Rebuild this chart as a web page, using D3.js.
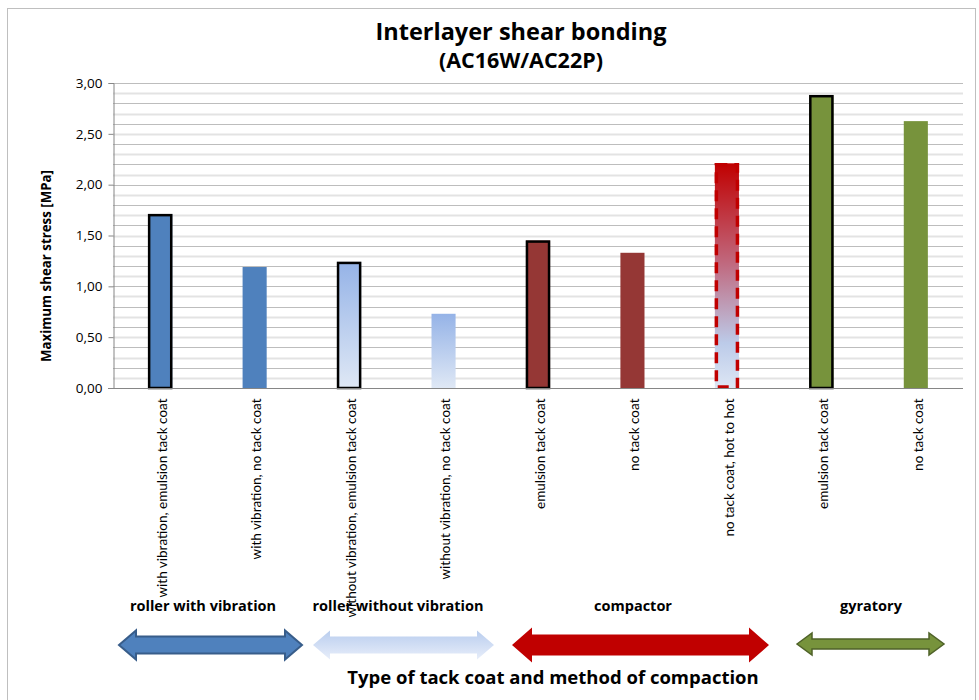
<!DOCTYPE html>
<html>
<head>
<meta charset="utf-8">
<script src="https://cdn.jsdelivr.net/npm/d3@7/dist/d3.min.js"></script>
<style>
  body { margin: 0; background: #fff; }
  svg { display: block; font-family: Lato, "Open Sans", sans-serif; }
  .bold { font-family: "Open Sans", sans-serif; font-weight: bold; }
</style>
</head>
<body>
<svg id="chart" width="979" height="700"></svg>
<script>
// Test conditions, shear strength results and grouping by compaction method
const categories = [
  "with vibration, emulsion tack coat",
  "with vibration, no tack coat",
  "without vibration, emulsion tack coat",
  "without vibration, no tack coat",
  "emulsion tack coat",
  "no tack coat",
  "no tack coat, hot to hot",
  "emulsion tack coat",
  "no tack coat"
];
const values = [1.71, 1.19, 1.24, 0.73, 1.45, 1.33, 2.21, 2.88, 2.625];
const fills = ["blue", "blue", "lightBlue", "lightBlue", "brick", "brick", "redFade", "olive", "olive"];
const outlines = ["solid", "none", "solid", "none", "solid", "none", "dashed", "solid", "none"];
const yTicks = [0, 0.5, 1.0, 1.5, 2.0, 2.5, 3.0];
const groups = ["roller with vibration", "roller without vibration", "compactor", "gyratory"];

const svg = d3.select("#chart");
const margin = { left: 113, right: 963, top: 83, bottom: 388 };

const x = d3.scaleBand().domain(d3.range(categories.length))
  .range([margin.left, margin.right]).paddingInner(0.745).paddingOuter(0.372);
const y = d3.scaleLinear().domain([0, 3]).range([margin.bottom, margin.top]);

// gradients
const defs = svg.append("defs");
function vgrad(id, stops) {
  const g = defs.append("linearGradient").attr("id", id)
    .attr("x1", 0).attr("y1", 0).attr("x2", 0).attr("y2", 1);
  stops.forEach(s => g.append("stop").attr("offset", s[0]).attr("stop-color", s[1]));
}
vgrad("lightBlue", [[0, "#95b3e7"], [1, "#dfe8f5"]]);
vgrad("redFade", [[0, "#c00000"], [0.45, "#c06a80"], [0.8, "#bccbe9"], [1, "#dde6f4"]]);
vgrad("lightArrow", [[0, "#b9cdee"], [1, "#e8eefa"]]);
const fillColor = {
  blue: "#4f81bd", lightBlue: "url(#lightBlue)", brick: "#953735",
  redFade: "url(#redFade)", olive: "#77933c"
};

// outer chart frame
svg.append("rect").attr("x", 7.5).attr("y", 8.5).attr("width", 968).attr("height", 700)
  .attr("fill", "none").attr("stroke", "#bfbfbf").attr("stroke-width", 1);

// gridlines every 0.1
const gridVals = d3.range(1, 31).map(i => i / 10);
svg.append("g").selectAll("line").data(gridVals).join("line")
  .attr("x1", margin.left).attr("x2", margin.right)
  .attr("y1", d => Math.round(y(d)) + 0.5).attr("y2", d => Math.round(y(d)) + 0.5)
  .attr("stroke", (d, i) => (i % 2 === 0) ? "#e3e3e3" : "#bdbdbd")
  .attr("stroke-width", (d, i) => (i % 2 === 0) ? 2 : 1);

// bars
const bars = svg.append("g");
values.forEach((v, i) => {
  const bx = x(i), bw = x.bandwidth();
  const by = y(v), bh = y(0) - y(v);
  bars.append("rect").attr("x", bx).attr("y", by).attr("width", bw).attr("height", bh)
    .attr("fill", fillColor[fills[i]]);
  if (outlines[i] === "solid") {
    bars.append("rect").attr("x", bx + 1).attr("y", by + 1).attr("width", bw - 2).attr("height", bh - 1)
      .attr("fill", "none").attr("stroke", "#000").attr("stroke-width", 2.5);
  } else if (outlines[i] === "dashed") {
    bars.append("rect").attr("x", bx + 1.5).attr("y", by + 1.5).attr("width", bw - 3).attr("height", bh - 2.5)
      .attr("fill", "none").attr("stroke", "#c00000").attr("stroke-width", 3.5)
      .attr("stroke-dasharray", "11,7");
  }
});

// y axis
const yAxis = d3.axisLeft(y).tickValues(yTicks).tickSize(5).tickPadding(6)
  .tickFormat(d => d3.format(".2f")(d).replace(".", ","));
const ya = svg.append("g").attr("transform", `translate(${margin.left + 0.5},0)`).call(yAxis);
ya.select(".domain").attr("stroke", "#868686");
ya.selectAll(".tick line").attr("stroke", "#868686");
ya.selectAll(".tick text").attr("font-size", 13.5).attr("fill", "#000")
  .attr("font-family", "'Open Sans', sans-serif");

// x axis
const xAxis = d3.axisBottom(x).tickSize(0).tickFormat(i => categories[i]);
const xa = svg.append("g").attr("transform", `translate(0,${margin.bottom + 0.5})`).call(xAxis);
xa.select(".domain").attr("stroke", "#868686").attr("d", `M${margin.left - 5},0H${margin.right}`);
xa.selectAll(".tick text")
  .attr("transform", "rotate(-90)")
  .attr("text-anchor", "end")
  .attr("x", -10).attr("y", 2).attr("dy", "0.35em")
  .attr("font-size", 13.5).attr("fill", "#000")
  .attr("font-family", "Lato, sans-serif");

// titles
svg.append("text").attr("class", "bold").attr("x", 521).attr("y", 40).attr("text-anchor", "middle")
  .attr("font-size", 23.5).text("Interlayer shear bonding");
svg.append("text").attr("class", "bold").attr("x", 521).attr("y", 68).attr("text-anchor", "middle")
  .attr("font-size", 21.5).text("(AC16W/AC22P)");
svg.append("text").attr("class", "bold").attr("transform", "translate(51,266) rotate(-90)")
  .attr("text-anchor", "middle").attr("font-size", 13.3).text("Maximum shear stress [MPa]");
svg.append("text").attr("class", "bold").attr("x", 553).attr("y", 684).attr("text-anchor", "middle")
  .attr("font-size", 18.5).text("Type of tack coat and method of compaction");

// group labels
const groupLabelX = [203, 398, 633, 871];
groups.forEach((g, i) => {
  svg.append("text").attr("class", "bold").attr("x", groupLabelX[i]).attr("y", 611)
    .attr("text-anchor", "middle").attr("font-size", 14.5).text(g);
});

// double arrows under each group
function doubleArrow(x0, x1, cy, shaftH, headH, headL) {
  const s = shaftH / 2, h = headH / 2;
  return `M${x0},${cy} L${x0 + headL},${cy - h} L${x0 + headL},${cy - s} L${x1 - headL},${cy - s}` +
    ` L${x1 - headL},${cy - h} L${x1},${cy} L${x1 - headL},${cy + h} L${x1 - headL},${cy + s}` +
    ` L${x0 + headL},${cy + s} L${x0 + headL},${cy + h} Z`;
}
const arrowSpecs = [
  { x0: 119, x1: 302, cy: 645, s: 17, h: 29, l: 17, fill: "#4f81bd", stroke: "#385d8a", sw: 2 },
  { x0: 313, x1: 494, cy: 645, s: 17, h: 29, l: 17, fill: "url(#lightArrow)", stroke: "none", sw: 0 },
  { x0: 512, x1: 769, cy: 645, s: 21, h: 35, l: 20, fill: "#c00000", stroke: "none", sw: 0 },
  { x0: 797, x1: 944, cy: 644, s: 10, h: 22, l: 15, fill: "#77933c", stroke: "#4f6228", sw: 1.5 }
];
arrowSpecs.forEach(a => {
  svg.append("path").attr("d", doubleArrow(a.x0, a.x1, a.cy, a.s, a.h, a.l))
    .attr("fill", a.fill).attr("stroke", a.stroke).attr("stroke-width", a.sw)
    .attr("stroke-linejoin", "miter");
});
</script>
</body>
</html>
